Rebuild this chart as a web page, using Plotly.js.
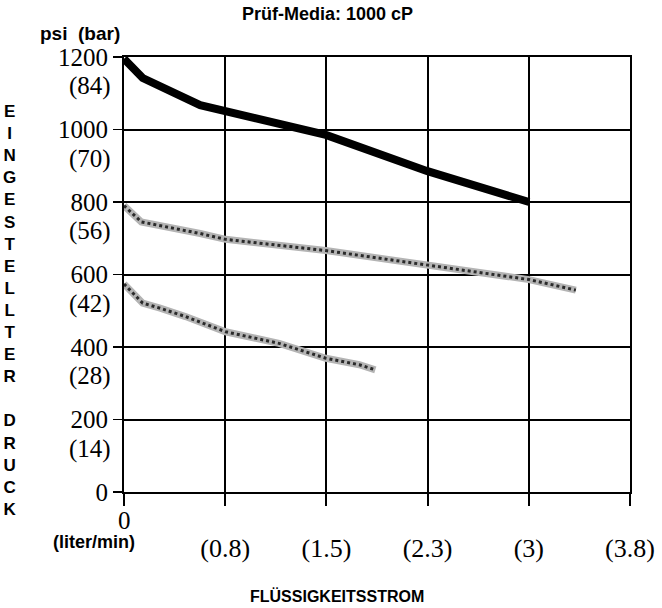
<!DOCTYPE html>
<html>
<head>
<meta charset="utf-8">
<script src="https://cdn.plot.ly/plotly-3.0.1.min.js"></script>
<style>html,body{margin:0;padding:0;background:#fff;}#chart{width:662px;height:608px;}</style>
</head>
<body>
<div id="chart"></div>
<script>
// Flow in liter/min, pressure in psi
const flowTicks = [0, 0.757, 1.514, 2.271, 3.028, 3.785];
const flowTickText = ["", "(0.8)", "(1.5)", "(2.3)", "(3)", "(3.8)"];
const psiTicks = [0, 200, 400, 600, 800, 1000, 1200];
const barLabels = ["(14)", "(28)", "(42)", "(56)", "(70)", "(84)"];
const barLabelPsi = [200, 400, 600, 800, 1000, 1200];

const highFlow = [0, 0.14, 0.57, 0.76, 1.51, 2.27, 3.03];
const highPsi  = [1195, 1142, 1067, 1050, 985, 885, 800];

const midFlow = [0, 0.13, 0.57, 0.76, 1.51, 2.27, 3.03, 3.38];
const midPsi  = [790, 745, 713, 697, 666, 625, 586, 557];

const lowFlow = [0, 0.14, 0.27, 0.46, 0.76, 1.16, 1.51, 1.76, 1.88];
const lowPsi  = [574, 521, 507, 484, 442, 410, 369, 351, 337];

const serif = "Liberation Serif, Times New Roman, serif";
const sans = "Liberation Sans, Arial, sans-serif";

const traces = [
  {x: highFlow, y: highPsi, mode: "lines", line: {color: "#000", width: 8}, hoverinfo: "skip"},
  {x: midFlow, y: midPsi, mode: "lines", line: {color: "#b4b4b4", width: 7}, hoverinfo: "skip"},
  {x: midFlow, y: midPsi, mode: "lines", line: {color: "#2a2a2a", width: 3, dash: "dot"}, hoverinfo: "skip"},
  {x: lowFlow, y: lowPsi, mode: "lines", line: {color: "#b4b4b4", width: 7}, hoverinfo: "skip"},
  {x: lowFlow, y: lowPsi, mode: "lines", line: {color: "#2a2a2a", width: 3, dash: "dot"}, hoverinfo: "skip"}
];

const annotations = [];
barLabels.forEach((t, i) => {
  annotations.push({text: t, xref: "paper", yref: "y", x: 0, y: barLabelPsi[i] - 80,
    xanchor: "right", yanchor: "middle", xshift: -11, showarrow: false,
    font: {family: serif, size: 25, color: "#000"}});
});
annotations.push({text: "0", xref: "paper", yref: "paper", x: 0, y: -0.066, xanchor: "center", yanchor: "middle",
  showarrow: false, font: {family: serif, size: 25, color: "#000"}});
annotations.push({text: "<b>(liter/min)</b>", xref: "paper", yref: "paper", x: -0.06, y: -0.116, xanchor: "center", yanchor: "middle",
  showarrow: false, font: {family: sans, size: 18, color: "#000"}});
annotations.push({text: "<b>FLÜSSIGKEITSSTROM</b>", xref: "paper", yref: "paper", x: 0.42, y: -0.238, xanchor: "center", yanchor: "middle",
  showarrow: false, font: {family: sans, size: 16, color: "#000"}});
annotations.push({text: "<b>Prüf-Media: 1000 cP</b>", xref: "paper", yref: "paper", x: 0.4027, y: 1.098, xanchor: "center", yanchor: "middle",
  showarrow: false, font: {family: sans, size: 18, color: "#000"}});
annotations.push({text: "<b>psi  (bar)</b>", xref: "paper", yref: "paper", x: -0.0876, y: 1.0544, xanchor: "center", yanchor: "middle",
  showarrow: false, font: {family: sans, size: 19, color: "#000"}});
const vert = "EINGESTELLTER".split("").concat(["&nbsp;"], "DRUCK".split("")).map(c => "<b>" + c + "</b>").join("<br>");
annotations.push({text: vert, xref: "paper", yref: "paper", x: -0.226, y: 0.4162, xanchor: "center", yanchor: "middle",
  showarrow: false, font: {family: sans, size: 17, color: "#000"}});

const layout = {
  width: 662, height: 608,
  margin: {l: 124, r: 32, t: 57, b: 116, pad: 0},
  paper_bgcolor: "#fff", plot_bgcolor: "#fff",
  showlegend: false,
  xaxis: {range: [0, 3.785], tickmode: "array", tickvals: flowTicks, ticktext: flowTickText,
    showgrid: true, gridcolor: "#000", gridwidth: 2, zeroline: false,
    showline: true, linecolor: "#000", linewidth: 2, mirror: true,
    ticks: "outside", ticklen: 12, tickwidth: 2, tickcolor: "#000", ticklabelstandoff: 20,
    tickfont: {family: serif, size: 26, color: "#000"}, fixedrange: true},
  yaxis: {range: [0, 1200], tickmode: "array", tickvals: psiTicks, ticktext: psiTicks.map(String),
    showgrid: true, gridcolor: "#000", gridwidth: 2, zeroline: false,
    showline: true, linecolor: "#000", linewidth: 2, mirror: true,
    ticks: "outside", ticklen: 9, tickwidth: 1.5, tickcolor: "#000",
    tickfont: {family: serif, size: 25, color: "#000"}, fixedrange: true},
  annotations: annotations
};

Plotly.newPlot("chart", traces, layout, {displayModeBar: false, staticPlot: true});
</script>
</body>
</html>
